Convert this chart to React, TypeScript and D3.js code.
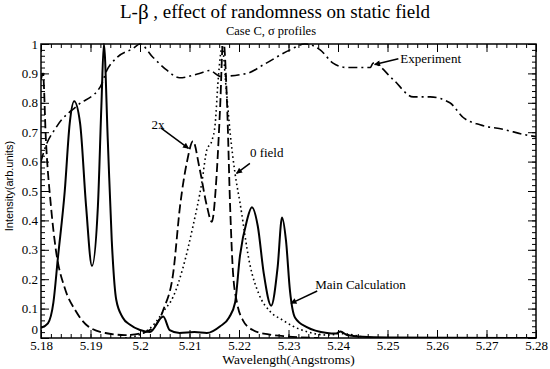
// @ts-nocheck
import * as d3 from "d3";
import { useRef, useEffect } from "react";

// Main Calculation (solid)
const mainWl = [5.18, 5.1814, 5.1825, 5.1834, 5.1848, 5.1858, 5.1867, 5.1879, 5.1891, 5.1903, 5.1915, 5.1922, 5.1927, 5.1935, 5.1943, 5.1952, 5.1965, 5.198, 5.2, 5.202, 5.2047, 5.206, 5.208, 5.211, 5.2135, 5.2162, 5.218, 5.2192, 5.2202, 5.2216, 5.2226, 5.2238, 5.225, 5.2265, 5.2278, 5.2287, 5.2295, 5.2303, 5.2313, 5.2337, 5.2378, 5.2395, 5.2405, 5.2418, 5.245, 5.25, 5.28];
const mainI = [0.035, 0.05, 0.12, 0.27, 0.5, 0.73, 0.805, 0.73, 0.45, 0.245, 0.45, 0.79, 1.0, 0.67, 0.33, 0.13, 0.07, 0.045, 0.027, 0.02, 0.073, 0.027, 0.017, 0.02, 0.017, 0.04, 0.07, 0.12, 0.28, 0.4, 0.445, 0.38, 0.22, 0.11, 0.24, 0.41, 0.33, 0.16, 0.07, 0.037, 0.017, 0.015, 0.022, 0.01, 0.004, 0.002, 0.0];

// 2x field (dashed)
const twoxWl = [5.18, 5.1804, 5.181, 5.182, 5.183, 5.1848, 5.1869, 5.1895, 5.193, 5.197, 5.2, 5.203, 5.2048, 5.2067, 5.2081, 5.2095, 5.2107, 5.212, 5.2135, 5.2145, 5.2155, 5.2162, 5.2168, 5.2176, 5.2182, 5.2188, 5.2196, 5.2208, 5.2228, 5.226, 5.23, 5.236];
const twoxI = [0.88, 0.9, 0.67, 0.45, 0.3, 0.17, 0.095, 0.04, 0.017, 0.01, 0.015, 0.04, 0.1, 0.22, 0.45, 0.6, 0.67, 0.58, 0.45, 0.395, 0.56, 0.79, 1.02, 0.79, 0.45, 0.22, 0.12, 0.06, 0.027, 0.012, 0.005, 0.0];

// 0 field (dotted)
const zeroWl = [5.197, 5.2007, 5.203, 5.2047, 5.2067, 5.2087, 5.2107, 5.2125, 5.2135, 5.2145, 5.2152, 5.2158, 5.2166, 5.2174, 5.2182, 5.2192, 5.2202, 5.2222, 5.224, 5.2263, 5.2289, 5.2309, 5.234, 5.238, 5.2405, 5.245];
const zeroI = [0.0, 0.017, 0.05, 0.09, 0.14, 0.24, 0.38, 0.53, 0.64, 0.67, 0.73, 0.88, 0.99, 0.85, 0.7, 0.56, 0.46, 0.25, 0.15, 0.09, 0.06, 0.04, 0.02, 0.01, 0.015, 0.003];

// Experiment (dash-dot)
const expWl = [5.18, 5.1805, 5.1832, 5.1873, 5.192, 5.1933, 5.1954, 5.1986, 5.2, 5.2026, 5.2055, 5.208, 5.212, 5.2141, 5.2162, 5.2216, 5.225, 5.2303, 5.2333, 5.2364, 5.239, 5.2418, 5.2465, 5.2471, 5.2511, 5.2552, 5.2586, 5.2626, 5.2653, 5.2687, 5.2733, 5.2782, 5.28];
const expI = [0.6, 0.63, 0.72, 0.79, 0.855, 0.91, 0.955, 0.985, 1.0, 0.955, 0.91, 0.885, 0.9, 0.91, 0.89, 0.9, 0.93, 0.98, 1.0, 0.98, 0.935, 0.92, 0.92, 0.935, 0.88, 0.82, 0.82, 0.8, 0.75, 0.725, 0.71, 0.69, 0.685];

const xTicks = [5.18, 5.19, 5.2, 5.21, 5.22, 5.23, 5.24, 5.25, 5.26, 5.27, 5.28];
const yTicks = [0, 0.1, 0.2, 0.3, 0.4, 0.5, 0.6, 0.7, 0.8, 0.9, 1];

// annotation label, text position in data units, arrow from/to in data units
const notes = [
  { text: "Experiment", tx: 5.2526, ty: 0.935, from: [5.2522, 0.95], to: [5.2474, 0.93] },
  { text: "2x", tx: 5.2023, ty: 0.71, from: [5.2042, 0.715], to: [5.2098, 0.645] },
  { text: "0 field", tx: 5.2222, ty: 0.614, from: [5.2222, 0.594], to: [5.2195, 0.56] },
  { text: "Main Calculation", tx: 5.2354, ty: 0.165, from: [5.2358, 0.16], to: [5.2305, 0.118] },
];

export default function App() {
  const ref = useRef();

  useEffect(() => {
    const width = 550;
    const height = 369;
    const m = { top: 44, right: 14, bottom: 31, left: 41 };
    const svg = d3.select(ref.current);
    svg.selectAll("*").remove();

    const x = d3.scaleLinear().domain([5.18, 5.28]).range([m.left, width - m.right]);
    const y = d3.scaleLinear().domain([0, 1]).range([height - m.bottom, m.top]);

    const serif = "'Liberation Serif', 'Times New Roman', serif";
    const fmt = (d) => String(+d.toFixed(2));

    const defs = svg.append("defs");
    defs
      .append("clipPath")
      .attr("id", "plot")
      .append("rect")
      .attr("x", x(5.18))
      .attr("y", y(1) - 1)
      .attr("width", x(5.28) - x(5.18))
      .attr("height", y(0) - y(1) + 1);
    defs
      .append("marker")
      .attr("id", "head")
      .attr("viewBox", "0 0 10 10")
      .attr("refX", 9)
      .attr("refY", 5)
      .attr("markerWidth", 7)
      .attr("markerHeight", 6)
      .attr("orient", "auto")
      .attr("markerUnits", "userSpaceOnUse")
      .append("path")
      .attr("d", "M0,0L10,5L0,10z")
      .attr("fill", "#000");

    // titles
    const title = svg
      .append("text")
      .attr("x", 275)
      .attr("y", 18)
      .attr("text-anchor", "middle")
      .attr("font-family", serif)
      .attr("font-size", 19);
    title.append("tspan").text("L-");
    title.append("tspan").attr("font-size", 21).attr("dy", 1).text("β");
    title.append("tspan").attr("dy", -1).text(" , effect of randomness on static field");
    svg
      .append("text")
      .attr("x", 271)
      .attr("y", 35)
      .attr("text-anchor", "middle")
      .attr("font-family", serif)
      .attr("font-size", 12.5)
      .text("Case C, σ  profiles");

    // axes with inward ticks
    const xMinor = d3.range(0, 51).map((i) => 5.18 + i * 0.002);
    const yMinor = d3.range(0, 51).map((i) => i * 0.02);
    const axes = [
      [d3.axisBottom(x), y(0), 0, true, xTicks, xMinor],
      [d3.axisTop(x), y(1), 0, false, xTicks, xMinor],
      [d3.axisLeft(y), x(5.18), 1, true, yTicks, yMinor],
      [d3.axisRight(y), x(5.28), 1, false, yTicks, yMinor],
    ];
    axes.forEach(([ax, pos, vert, labels, major, minor]) => {
      const t = vert ? `translate(${pos},0)` : `translate(0,${pos})`;
      const gMin = svg
        .append("g")
        .attr("transform", t)
        .call(ax.tickValues(minor).tickSize(-4).tickFormat(""));
      gMin.select(".domain").remove();
      const gMaj = svg
        .append("g")
        .attr("transform", t)
        .call(
          ax
            .tickValues(major)
            .tickSize(-8)
            .tickPadding(3)
            .tickFormat(labels ? fmt : "")
        );
      gMaj.select(".domain").remove();
      svg.selectAll(".tick line").attr("stroke-width", 1);
      gMaj.selectAll("text").attr("font-family", serif).attr("font-size", 13).attr("fill", "#000");
      if (vert && labels) {
        gMaj.selectAll("text").filter((d) => d === 0).attr("dy", "-0.35em");
      }
    });

    svg
      .append("rect")
      .attr("x", x(5.18))
      .attr("y", y(1))
      .attr("width", x(5.28) - x(5.18))
      .attr("height", y(0) - y(1))
      .attr("fill", "none")
      .attr("stroke", "#000")
      .attr("stroke-width", 1.5);

    // axis titles
    svg
      .append("text")
      .attr("x", (x(5.18) + x(5.28)) / 2)
      .attr("y", 364)
      .attr("text-anchor", "middle")
      .attr("font-family", serif)
      .attr("font-size", 13.5)
      .text("Wavelength(Angstroms)");
    svg
      .append("text")
      .attr("transform", "translate(13,186) rotate(-90)")
      .attr("text-anchor", "middle")
      .attr("font-family", "'Liberation Sans', Arial, sans-serif")
      .attr("font-size", 11)
      .text("Intensity(arb.units)");

    // series
    const line = d3
      .line()
      .x((d) => x(d[0]))
      .y((d) => y(d[1]))
      .curve(d3.curveMonotoneX);
    const series = [
      [expWl, expI, 1.6, "9,4,2,4"],
      [zeroWl, zeroI, 1.6, "1.6,3"],
      [twoxWl, twoxI, 1.8, "9,4"],
      [mainWl, mainI, 2, null],
    ];
    const plot = svg.append("g").attr("clip-path", "url(#plot)");
    series.forEach(([wl, v, w, dash]) => {
      plot
        .append("path")
        .datum(d3.zip(wl, v))
        .attr("d", line)
        .attr("fill", "none")
        .attr("stroke", "#000")
        .attr("stroke-width", w)
        .attr("stroke-dasharray", dash)
        .attr("stroke-linejoin", "round");
    });

    // annotations
    notes.forEach((n) => {
      svg
        .append("text")
        .attr("x", x(n.tx))
        .attr("y", y(n.ty))
        .attr("font-family", serif)
        .attr("font-size", 13)
        .text(n.text);
      svg
        .append("line")
        .attr("x1", x(n.from[0]))
        .attr("y1", y(n.from[1]))
        .attr("x2", x(n.to[0]))
        .attr("y2", y(n.to[1]))
        .attr("stroke", "#000")
        .attr("stroke-width", 1.5)
        .attr("marker-end", "url(#head)");
    });
  }, []);

  return (
    <svg
      ref={ref}
      width={550}
      height={369}
      style={{ position: "absolute", left: 0, top: 0, background: "#fff" }}
    ></svg>
  );
}
